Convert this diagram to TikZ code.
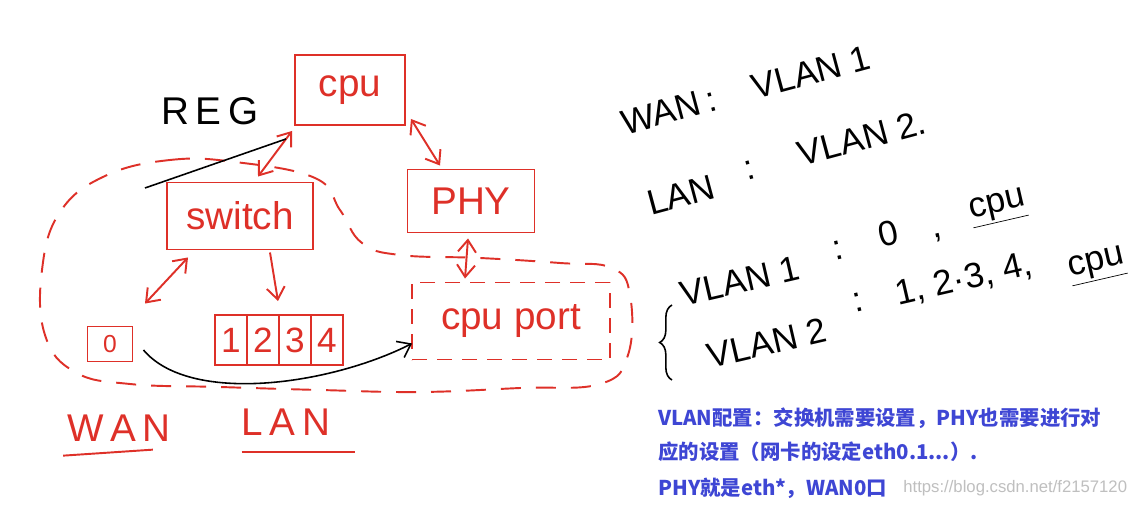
\documentclass[tikz,border=0pt]{standalone}
\usepackage{fontspec}
\setmainfont{Liberation Sans}
\newfontfamily\cjk{Noto Sans CJK SC}
\usepackage{xcolor}
\usetikzlibrary{arrows.meta, positioning, decorations.pathreplacing}
\definecolor{penred}{RGB}{222,48,40}
\definecolor{noteblue}{RGB}{62,70,212}

\begin{document}
\begin{tikzpicture}[x=0.2mm, y=-0.2mm, every node/.style={font=\fontsize{22}{24}\selectfont}]
\tikzset{bx/.style={draw=penred, line width=1.1pt, inner sep=0pt, text=penred},
  portbx/.style={bx, dash pattern=on 3mm off 2mm},
  lbl/.style={text=penred, inner sep=0pt},
  hw/.style={text=black, inner sep=0pt},
  vw/.style={hw, font=\fontsize{20}{22}\selectfont},
  note/.style={anchor=west, inner sep=0pt, text=noteblue, font=\cjk\bfseries\fontsize{11.6}{14}\selectfont},
  dbl/.style={{Straight Barb[length=2.4mm, width=3.6mm]}-{Straight Barb[length=2.4mm, width=3.6mm]}, draw=penred, line width=1.1pt},
  one/.style={-{Straight Barb[length=2.4mm, width=3.6mm]}, draw=penred, line width=1.1pt},
  blk/.style={draw=black, line width=0.9pt},
  zone/.style={draw=penred, line width=1.1pt, dash pattern=on 4mm off 3mm}}
\path[fill=white, use as bounding box] (0,0) rectangle (1130,506);

% boxes
\node[bx, minimum width=22mm, minimum height=14mm] (cpu) at (350,90) {cpu};
\node[bx, minimum width=29.2mm, minimum height=13.4mm] (sw) at (240,216) {switch};
\node[bx, minimum width=25.4mm, minimum height=12.6mm] (phy) at (471,201) {PHY};
\node[bx, minimum width=9mm, minimum height=7mm, font=\fontsize{14}{16}\selectfont] (p0) at (110,344) {0};
\foreach \d in {1,...,4}
  \node[bx, minimum width=6.4mm, minimum height=10mm, font=\fontsize{20}{22}\selectfont] (c\d) at ({199+32*\d},340) {\d};
\node[portbx, minimum width=39.6mm, minimum height=15.4mm] (cport) at (511,321) {cpu port};

% vlan zone
\draw[zone] plot[smooth cycle, tension=0.7] coordinates {(105,176) (170,160) (235,162) (315,178)
  (340,210) (362,243) (400,255) (480,258) (560,263) (612,268) (630,295) (628,355) (600,384)
  (520,388) (420,392) (320,390) (220,387) (130,384) (75,372) (45,335) (42,270) (60,212)};

% links
\draw[dbl] ([shift={(-2,5)}]cpu.south west) -- ([shift={(18,-5)}]sw.north);
\draw[dbl] ([shift={(5,-7)}]cpu.south east) -- ([shift={(-31,-3)}]phy.north);
\draw[dbl] ([shift={(-3,5)}]phy.south) -- ([shift={(-46,-3)}]cport.north);
\draw[dbl] ([shift={(-52,7)}]sw.south) -- ([shift={(35,-22)}]p0.north);
\draw[one] ([shift={(30,2)}]sw.south) -- ([shift={(-2,-13)}]c2.north east);

% REG
\node[hw] (reg) at (210,111) {R\,E\,G};
\coordinate (regtail) at (145,188);
\draw[blk] (regtail) -- ([shift={(-8,13)}]cpu.south west);
\draw[blk, -{Straight Barb[length=2.4mm, width=3.6mm]}] ([shift={(10,6)}]p0.east)
  .. controls (190,405) and (330,385) .. ([shift={(1,-17)}]cport.south west);

% WAN / LAN
\node[lbl] (wan) at (119,428) {W\,A\,N};
\node[lbl] (lanl) at (286,422) {L\,A\,N};
\draw[draw=penred, line width=1.1pt] ([shift={(-4,14)}]wan.south west) -- ([shift={(-18,8)}]wan.south east);
\draw[draw=penred, line width=1.1pt] ([shift={(0,16)}]lanl.south west) -- ([shift={(25,16)}]lanl.south east);

% vlan notes
\node[vw, rotate=15] (w1) at (661,113) {WAN};
\node[vw, rotate=15] (w2) at (712,102) {:};
\node[vw, rotate=15] (w3) at (811,72) {VLAN 1};
\node[vw, rotate=15] (l1) at (681,195) {LAN};
\node[vw, rotate=15] (l2) at (750,170) {:};
\node[vw, rotate=15] (l3) at (862,138) {VLAN 2.};
\node[vw, rotate=13] (a1) at (740,281) {VLAN 1};
\node[vw, rotate=13] (a2) at (838,250) {:};
\node[vw, rotate=13] (a3) at (888,234) {0};
\node[vw, rotate=13] (a4) at (938,238) {,};
\node[vw, rotate=13] (a5) at (998,208) {\underline{cpu}};
\node[vw, rotate=13] (b1) at (767,343) {VLAN 2};
\node[vw, rotate=13] (b2) at (858,302) {:};
\node[vw, rotate=13] (b3) at (964,280) {1, 2·3, 4,};
\node[vw, rotate=13] (b4) at (1097,266) {\underline{cpu}};
\draw[blk, decorate, decoration={brace, amplitude=7pt}] (672,380) -- (672,305);

% blue note
\node[note] (n1) at (658,418) {VLAN配置：交换机需要设置，PHY也需要进行对};
\node[note] (n2) at (658,452) {应的设置（网卡的设定eth0.1...）.};
\node[note] (n3) at (658,488) {PHY就是eth*，WAN0口};
\node[anchor=west, inner sep=0pt, text=black!25, font=\fontsize{9.5}{11}\selectfont] (wm) at (903,488)
  {https://blog.csdn.net/f2157120};
\end{tikzpicture}
\end{document}
